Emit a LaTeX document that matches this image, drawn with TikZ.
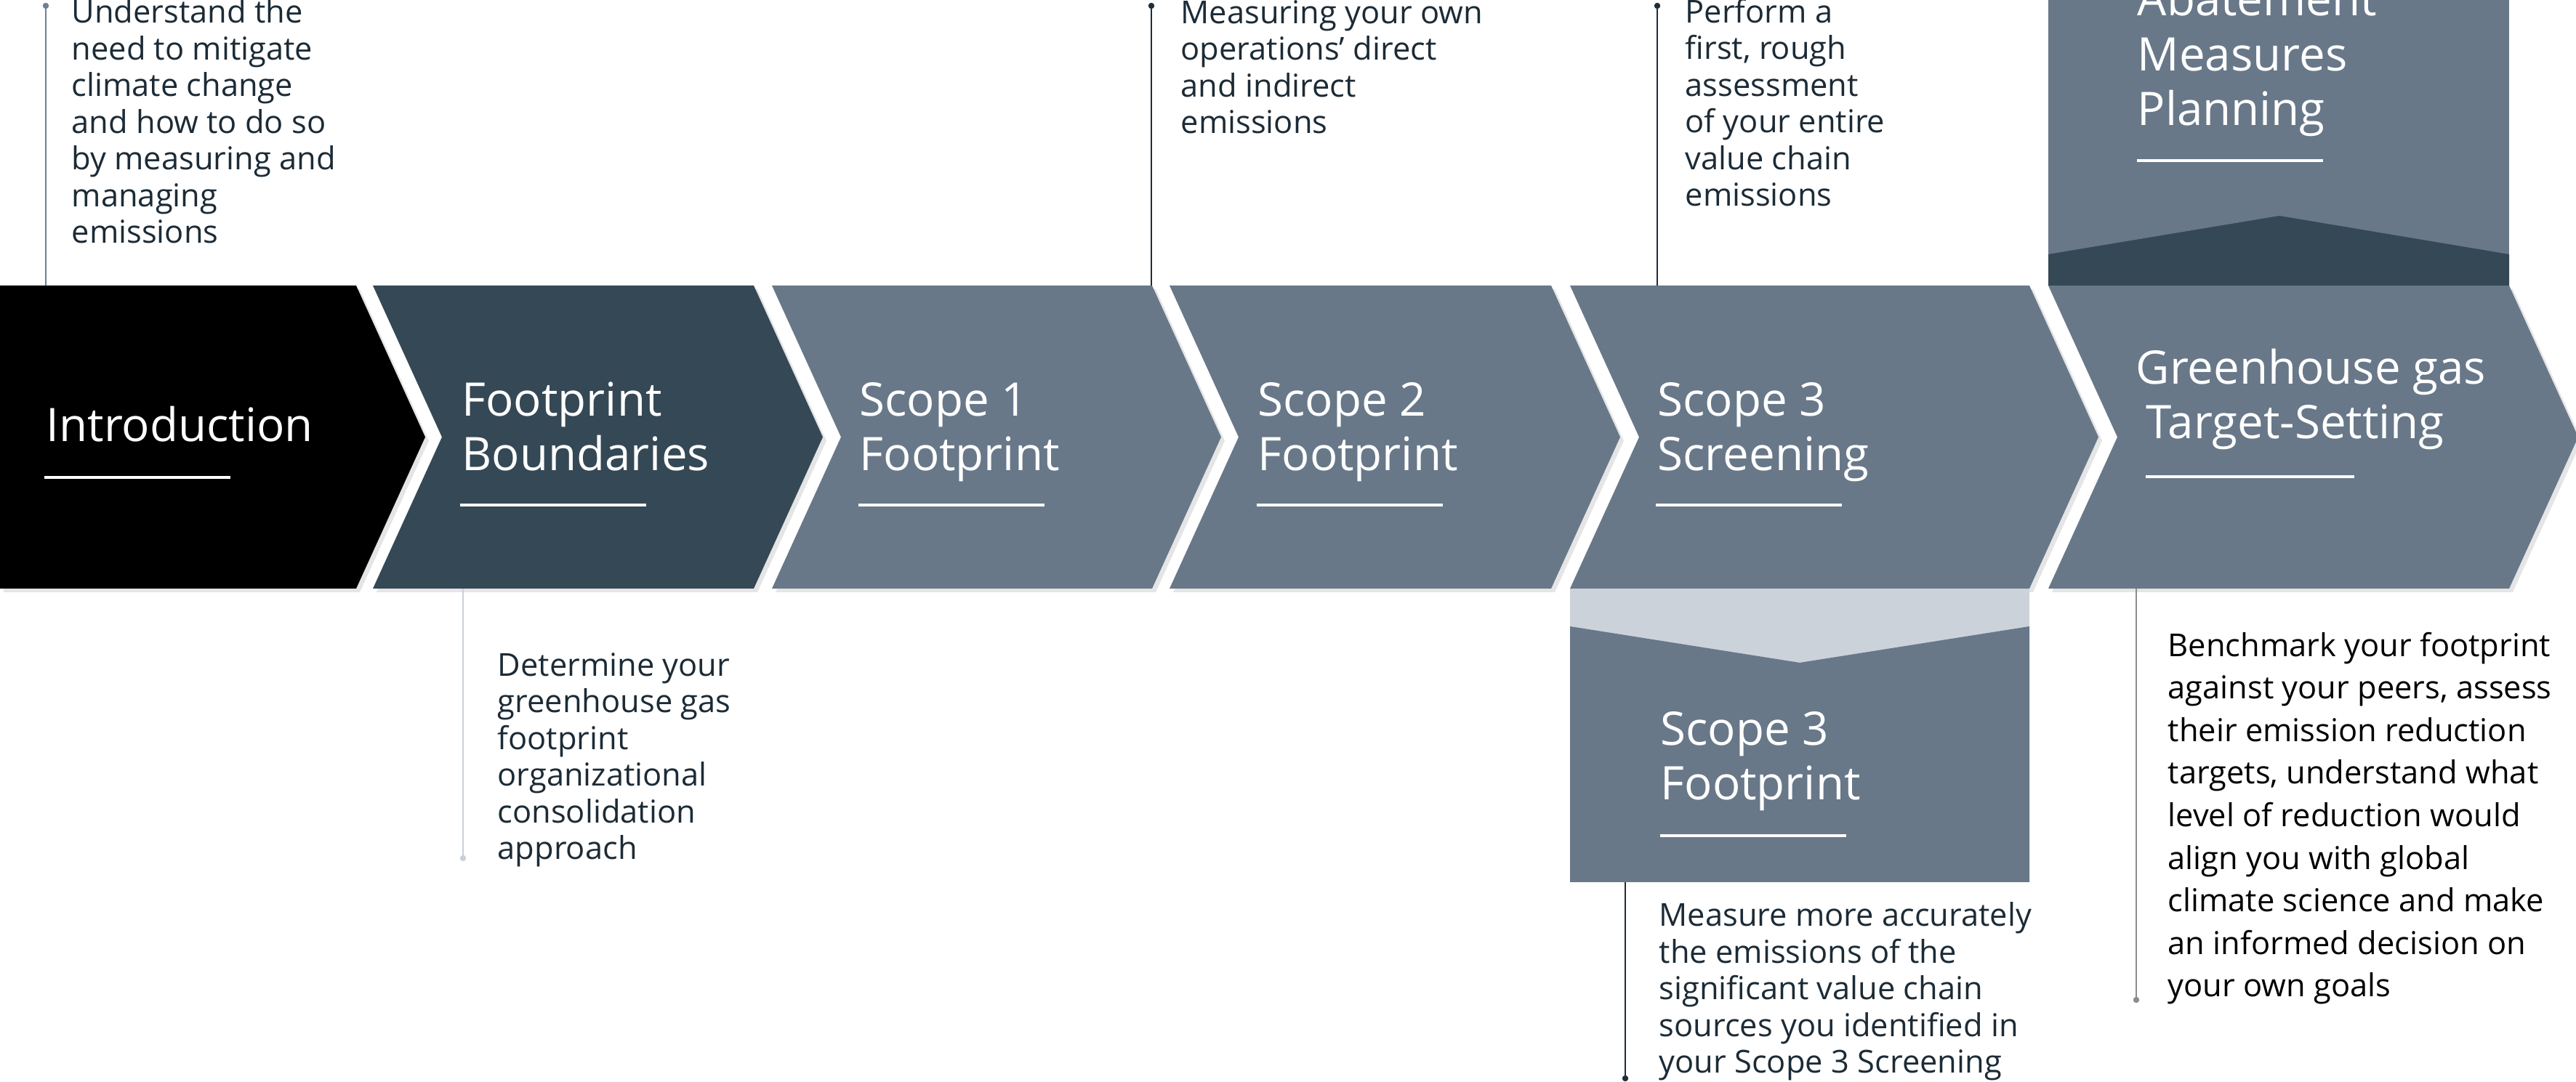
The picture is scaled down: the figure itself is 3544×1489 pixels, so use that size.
\documentclass[tikz,border=0pt]{standalone}
\usepackage{fontspec}
\setmainfont{Open Sans}
\definecolor{introcol}{HTML}{000000}
\definecolor{darkcol}{HTML}{354855}
\definecolor{midcol}{HTML}{687889}
\definecolor{lightcol}{HTML}{CBD2DA}
\definecolor{textcol}{HTML}{1C2B36}
\definecolor{leadmid}{HTML}{6F8093}
\definecolor{leaddark}{HTML}{1E2D3A}
\definecolor{leadlight}{HTML}{C9D0D9}
\definecolor{leadgray}{HTML}{8C8C8C}
\begin{document}
\begin{tikzpicture}[x=0.01cm, y=-0.01cm,
    title/.style={anchor=base west, align=left, inner sep=0, text=white, font=\fontsize{18.1}{21.6}\selectfont},
    blurb/.style={anchor=base west, align=left, inner sep=0, text=textcol, font=\fontsize{12.35}{14.37}\selectfont},
    lead/.style={line width=0.6pt},
    rule/.style={white, line width=1.1pt}]
    \useasboundingbox (0,0) rectangle (3544,1489);
    \pgfmathsetmacro{\dx}{95}
    \coordinate (bandtop) at (0,393);
    \coordinate (bandbot) at (0,810);
    \coordinate (boxbot) at (0,1214);
    % chevron band
    \foreach \l/\r/\c/\n in {0/490/introcol/0, 513/1037/darkcol/95, 1062/1585/midcol/95, 1609/2134/midcol/95, 2160/2792/midcol/95, 2818/3452/midcol/95} {
        \fill [black!10, shift={(5,5)}] (\l,393) -- (\r,393) -- (\r+\dx,601.5) -- (\r,810) -- (\l,810) -- (\l+\n,601.5) -- cycle;
        \fill [\c] (\l,393) -- (\r,393) -- (\r+\dx,601.5) -- (\r,810) -- (\l,810) -- (\l+\n,601.5) -- cycle;
    }
    % abatement box above
    \fill [midcol] (2818,0) rectangle (3452,393);
    \fill [darkcol] (2818,350) -- (3136,297) -- (3452,350) -- (3452,393) -- (2818,393) -- cycle;
    % scope 3 footprint box below
    \fill [lightcol] (2160,810) rectangle (2792,912);
    \fill [midcol] (2160,862) -- (2476,912) -- (2792,862) -- (2792,1214) -- (2160,1214) -- cycle;
    % titles (placed at the baseline of their last line)
    \node [title] (intro) at (63,608) {Introduction};
    \node [title] (fb) at (635,648) {Footprint\\Boundaries};
    \node [title] (s1) at (1182,648) {Scope 1\\Footprint};
    \node [title] (s2) at (1730,648) {Scope 2\\Footprint};
    \node [title] (s3s) at (2280,648) {Scope 3\\Screening};
    \node [title] (ghg) at (2938,604) {Greenhouse gas\\\hspace*{0.14cm}Target-Setting};
    \node [title] (abate) at (2940,173) {Abatement\\Measures\\Planning};
    \node [title] (s3f) at (2284,1101) {Scope 3\\Footprint};
    \foreach \x/\y in {61/657, 633/695, 1181/695, 1729/695, 2278/695, 2940/221, 2284/1150}
        \draw [rule] (\x,\y) -- ++(256,0);
    \draw [rule] (2952,656) -- ++(287,0);
    % descriptions
    \node [blurb] (introtext) at (98,335) {Understand the\\need to mitigate\\climate change\\and how to do so\\by measuring and\\managing\\emissions};
    \node [blurb] (fbtext) at (684,1183) {Determine your\\greenhouse gas\\footprint\\organizational\\consolidation\\approach};
    \node [blurb] (scopetext) at (1624,184) {Measuring your own\\operations’ direct\\and indirect\\emissions};
    \node [blurb] (screentext) at (2318,284) {Perform a\\first, rough\\assessment\\of your entire\\value chain\\emissions};
    \node [blurb] (s3ftext) at (2282,1477) {Measure more accurately\\the emissions of the\\significant value chain\\sources you identified in\\your Scope 3 Screening};
    \node [blurb, text=black, font=\fontsize{12.35}{16.67}\selectfont] (ghgtext) at (2982,1372) {Benchmark your footprint\\against your peers, assess\\their emission reduction\\targets, understand what\\level of reduction would\\align you with global\\climate science and make\\an informed decision on\\your own goals};
    % leads
    \coordinate (introdot) at (63,8);
    \coordinate (scopedot) at (1584,8);
    \coordinate (screendot) at (2280,8);
    \coordinate (fbdot) at (637,1181);
    \coordinate (s3fdot) at (2236,1484);
    \coordinate (ghgdot) at (2939,1376);
    \draw [lead, leadmid] (introdot) -- (introdot |- bandtop);
    \draw [lead, leaddark] (scopedot) -- (scopedot |- bandtop);
    \draw [lead, leaddark] (screendot) -- (screendot |- bandtop);
    \draw [lead, leadlight] (fbdot |- bandbot) -- (fbdot);
    \draw [lead, leaddark] (s3fdot |- boxbot) -- (s3fdot);
    \draw [lead, leadgray] (ghgdot |- bandbot) -- (ghgdot);
    \fill [leadmid] (introdot) circle [radius=1.2pt];
    \fill [leaddark] (scopedot) circle [radius=1.2pt];
    \fill [leaddark] (screendot) circle [radius=1.2pt];
    \fill [leadlight] (fbdot) circle [radius=1.2pt];
    \fill [leaddark] (s3fdot) circle [radius=1.2pt];
    \fill [leadgray] (ghgdot) circle [radius=1.2pt];
\end{tikzpicture}
\end{document}
